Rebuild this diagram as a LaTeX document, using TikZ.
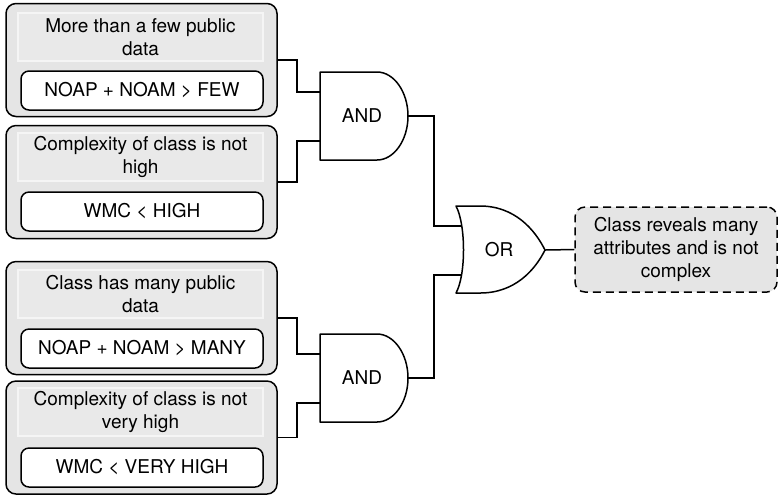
\documentclass[tikz,border=0pt]{standalone}
\usepackage{fontspec}
\setmainfont{TeX Gyre Heros}
\usepackage{xcolor}
\usepackage{tikz}
\usetikzlibrary{positioning}

\begin{document}
\begin{tikzpicture}[x=0.5pt, y=-0.5pt,
  font=\fontsize{9.5}{11.5}\selectfont,
  cond/.style={rectangle, draw, rounded corners=5pt, fill=gray!20, line width=0.75pt,
               minimum width=135.5pt, minimum height=56.5pt},
  title/.style={rectangle, fill=gray!17, draw=gray!8, line width=0.6pt, inner sep=0pt,
                minimum width=122.5pt, minimum height=24pt, align=center},
  rule/.style={rectangle, draw, fill=white, rounded corners=4pt, line width=0.75pt,
               minimum width=121pt, minimum height=19.5pt},
  result/.style={rectangle, draw, dash pattern=on 4pt off 2.5pt, rounded corners=5pt,
                 fill=gray!20, line width=0.75pt, minimum width=101pt, minimum height=42.5pt,
                 align=center},
  gate/.style={draw, fill=white, line width=0.75pt, line join=round},
  wire/.style={draw, line width=0.75pt},
]
  \useasboundingbox (0,0) rectangle (780,495);

  % Condition boxes
  \node[cond]  (c1) at (141.5,60) {};
  \node[title] (t1) at (140.5,37) {More than a few public\\data};
  \node[rule]  (r1) at (142,90.5) {NOAP + NOAM > FEW};

  \node[cond]  (c2) at (141.5,182) {};
  \node[title] (t2) at (140.5,157) {Complexity of class is not\\high};
  \node[rule]  (r2) at (142,211.5) {WMC < HIGH};

  \node[cond]  (c3) at (141.5,318) {};
  \node[title] (t3) at (140.5,294) {Class has many public\\data};
  \node[rule]  (r3) at (142,348.5) {NOAP + NOAM > MANY};

  \node[cond]  (c4) at (141.5,437.5) {};
  \node[title] (t4) at (140.5,412) {Complexity of class is not\\very high};
  \node[rule]  (r4) at (142,467.5) {WMC < VERY HIGH};

  % Result
  \node[result] (res) at (676,249.5) {Class reveals many\\attributes and is not\\complex};

  % Gate pins
  \coordinate (a1i1) at (320,92);
  \coordinate (a1i2) at (320,141);
  \coordinate (a1o)  at (408,116);
  \coordinate (a2i1) at (320,354);
  \coordinate (a2i2) at (320,403);
  \coordinate (a2o)  at (408,378);
  \coordinate (ori1) at (462,226);
  \coordinate (ori2) at (462,275);
  \coordinate (oro)  at (545,250);

  % Wires
  \draw[wire] (c1.east) -- ++(19,0) |- (a1i1);
  \draw[wire] (c2.east) -- ++(19,0) |- (a1i2);
  \draw[wire] (c3.east) -- ++(19,0) |- (a2i1);
  \draw[wire] (c4.east) -- ++(19,0) |- (a2i2);
  \draw[wire] (a1o) -- ++(26,0) |- (ori1);
  \draw[wire] (a2o) -- ++(26,0) |- (ori2);
  \draw[wire] (oro) -- (res.west);

  % Gates
  \path[gate] (320,72) -- (377,72) .. controls (394,72) and (408,92) .. (a1o)
    .. controls (408,140) and (394,160) .. (377,160) -- (320,160) -- cycle;
  \path[gate] (320,334) -- (377,334) .. controls (394,334) and (408,354) .. (a2o)
    .. controls (408,402) and (394,422) .. (377,422) -- (320,422) -- cycle;
  \path[gate] (456,206) -- (480,206) .. controls (515,206) and (535,230) .. (oro)
    .. controls (535,270) and (515,293) .. (480,293) -- (456,293)
    .. controls (466,275) and (466,225) .. (456,206) -- cycle;
  \node (and1) at (362,116) {AND};
  \node (and2) at (362,378) {AND};
  \node (or)   at (499,250) {OR};
\end{tikzpicture}
\end{document}
